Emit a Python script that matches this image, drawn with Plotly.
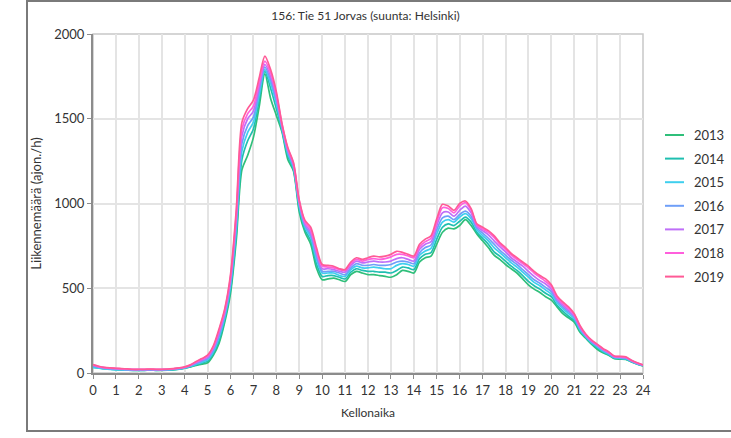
import plotly.graph_objects as go

# Hourly traffic profile, 15-minute resolution (0:00 ... 24:00)
hours = [i / 4 for i in range(97)]
years = ["2013", "2014", "2015", "2016", "2017", "2018", "2019"]

y2013 = [35, 30, 25, 22,  20, 18, 17, 16,  16, 16, 17, 16,  16, 17, 19, 22,
         28, 36, 45, 52,  60, 105, 175, 300,  470, 780, 1200, 1285,
         1390, 1570, 1765, 1620,  1520, 1420, 1260, 1190,  950, 830, 760, 620,
         550, 555, 560, 550,  540, 580, 600, 590,  580, 580, 575, 570,
         565, 580, 605, 600,  590, 655, 680, 690,  760, 830, 855, 850,
         870, 905, 870, 820,  780, 740, 695, 670,  640, 615, 590, 555,
         520, 495, 475, 450,  430, 390, 350, 325,  300, 240, 205, 170,
         140, 120, 105, 85,  82, 80, 65, 52,  42]
y2014 = [36, 31, 26, 23,  21, 19, 18, 17,  17, 17, 18, 17,  17, 18, 20, 23,
         29, 38, 48, 58,  70, 115, 190, 315,  490, 815, 1260, 1370,
         1440, 1610, 1780, 1680,  1560, 1430, 1280, 1200,  970, 845, 780, 645,
         570, 575, 575, 565,  555, 595, 615, 605,  600, 600, 595, 595,
         590, 605, 625, 620,  610, 675, 700, 710,  790, 860, 880, 870,
         895, 920, 890, 830,  795, 760, 715, 690,  660, 630, 605, 575,
         540, 515, 495, 470,  450, 400, 365, 335,  310, 250, 210, 175,
         148, 125, 108, 88,  85, 82, 66, 53,  43]
y2015 = [32, 28, 24, 21,  19, 18, 17, 16,  16, 16, 17, 16,  17, 18, 21, 24,
         30, 40, 52, 64,  78, 125, 210, 330,  515, 850, 1310, 1420,
         1480, 1640, 1790, 1710,  1590, 1440, 1295, 1210,  985, 860, 800, 670,
         590, 590, 590, 575,  570, 610, 630, 620,  620, 625, 620, 615,
         615, 635, 645, 640,  630, 695, 720, 735,  820, 890, 905, 890,
         920, 940, 910, 845,  810, 780, 740, 710,  680, 650, 625, 595,
         565, 535, 515, 490,  465, 415, 380, 350,  320, 255, 214, 180,
         155, 130, 112, 90,  87, 84, 68, 54,  44]
y2016 = [42, 34, 28, 25,  23, 21, 20, 19,  18, 18, 19, 18,  19, 20, 22, 26,
         32, 42, 56, 70,  85, 135, 222, 345,  530, 880, 1355, 1460,
         1510, 1665, 1805, 1730,  1610, 1450, 1305, 1220,  995, 870, 815, 690,
         600, 600, 600, 590,  580, 620, 645, 635,  635, 640, 635, 635,
         640, 655, 660, 655,  645, 710, 740, 755,  845, 915, 925, 905,
         935, 955, 925, 855,  825, 795, 760, 725,  695, 665, 640, 610,
         580, 550, 530, 505,  480, 425, 390, 360,  330, 262, 218, 184,
         160, 135, 116, 93,  90, 87, 70, 56,  45]
y2017 = [45, 36, 30, 27,  25, 23, 21, 20,  20, 20, 21, 20,  20, 21, 24, 28,
         34, 45, 62, 76,  92, 145, 235, 355,  550, 910, 1400, 1500,
         1545, 1690, 1820, 1750,  1630, 1455, 1315, 1225,  1005, 880, 830, 710,
         615, 615, 610, 600,  595, 635, 660, 650,  655, 660, 655, 655,
         660, 675, 680, 670,  660, 730, 760, 775,  870, 945, 950, 925,
         960, 985, 945, 865,  840, 815, 780, 745,  715, 680, 655, 630,
         600, 570, 545, 525,  495, 435, 400, 370,  335, 268, 222, 188,
         163, 138, 119, 95,  93, 90, 72, 57,  46]
y2018 = [48, 38, 32, 29,  27, 25, 23, 21,  21, 21, 22, 21,  21, 22, 25, 29,
         35, 47, 65, 82,  100, 152, 250, 370,  565, 935, 1440, 1530,
         1575, 1715, 1840, 1770,  1645, 1465, 1325, 1235,  1015, 890, 845, 725,
         630, 625, 620, 610,  605, 645, 670, 660,  670, 675, 670, 675,
         685, 700, 700, 690,  680, 745, 775, 795,  890, 975, 970, 945,
         985, 1005, 960, 875,  850, 830, 800, 760,  730, 695, 670, 645,
         620, 590, 565, 540,  510, 445, 410, 380,  345, 275, 226, 192,
         167, 142, 122, 98,  96, 93, 74, 59,  47]
y2019 = [50, 40, 33, 30,  28, 26, 24, 22,  22, 22, 23, 22,  22, 23, 26, 30,
         36, 48, 68, 85,  105, 160, 260, 380,  580, 960, 1480, 1560,
         1610, 1740, 1870, 1790,  1660, 1470, 1330, 1240,  1020, 900, 860, 740,
         640, 635, 630, 615,  610, 655, 680, 670,  680, 690, 685, 690,
         700, 718, 712, 700,  690, 760, 790, 810,  910, 995, 985, 960,
         1000, 1015, 970, 880,  860, 840, 810, 770,  740, 705, 680, 655,
         630, 600, 575, 555,  520, 455, 420, 390,  350, 280, 230, 195,
         170, 145, 125, 100,  98, 95, 75, 60,  48]

series = [y2013, y2014, y2015, y2016, y2017, y2018, y2019]
colors = ["#2fbf7a", "#1fbfb0", "#3fcfee", "#6f9ff8", "#bf6ff8", "#ff5fdc", "#ff5a96"]

x_ticks = list(range(0, 25))
y_ticks = [0, 500, 1000, 1500, 2000]

FONT = "Lato, 'Open Sans', sans-serif"

fig = go.Figure()
for yr, vals, col in zip(years, series, colors):
    fig.add_trace(go.Scatter(
        x=hours, y=vals, mode="lines", name=yr,
        line=dict(color=col, width=1.7, shape="spline", smoothing=0.8),
        showlegend=False,
    ))

# plot-area geometry (pixels) used to place the frame and legend in paper units
W, H = 731, 438
L, R, T, B = 93, 88, 34, 65
pw, ph = W - L - R, H - T - B

def px_x(p):
    return (p - L) / pw

def px_y(p):
    return (H - B - p) / ph

shapes = [
    # outer frame
    dict(type="rect", xref="paper", yref="paper",
         x0=px_x(27), x1=px_x(740), y0=px_y(431), y1=px_y(1),
         line=dict(color="#7a7a7a", width=2), layer="below"),
    # plot box
    dict(type="rect", xref="paper", yref="paper", x0=0, x1=1, y0=0, y1=1,
         line=dict(color="#c8c8c8", width=1.5), layer="below"),
]
annotations = []

# legend drawn as short line samples with labels
for i, (yr, col) in enumerate(zip(years, colors)):
    yy = px_y(135 + i * 23.6)
    shapes.append(dict(type="line", xref="paper", yref="paper",
                       x0=px_x(665), x1=px_x(684), y0=yy, y1=yy,
                       line=dict(color=col, width=2)))
    annotations.append(dict(xref="paper", yref="paper", x=px_x(692), y=yy,
                            text=yr, showarrow=False, xanchor="left", yanchor="middle",
                            font=dict(family=FONT, size=13, color="#333333")))

fig.update_layout(
    width=W, height=H,
    margin=dict(l=L, r=R, t=T, b=B),
    paper_bgcolor="white", plot_bgcolor="white",
    font=dict(family=FONT, size=13, color="#333333"),
    title=dict(text="156: Tie 51 Jorvas (suunta: Helsinki)", x=px_x(368), xanchor="center",
               y=1 - 16 / H, yanchor="middle",
               font=dict(family=FONT, size=12, color="#333333")),
    shapes=shapes,
    annotations=annotations,
    showlegend=False,
)

fig.update_xaxes(
    range=[0, 24], tickvals=x_ticks, ticktext=[str(t) for t in x_ticks],
    showgrid=True, gridcolor="#e4e4e4", gridwidth=1.5,
    showline=True, linecolor="#8c8c8c", linewidth=2,
    ticks="outside", ticklen=4, tickcolor="#8c8c8c", tickwidth=1,
    tickfont=dict(family=FONT, size=13, color="#333333"),
    title=dict(text="Kellonaika", font=dict(family=FONT, size=12, color="#333333"), standoff=12),
    zeroline=False,
)
fig.update_yaxes(
    range=[0, 2000], tickvals=y_ticks, ticktext=[str(t) for t in y_ticks],
    showgrid=True, gridcolor="#e4e4e4", gridwidth=1.5,
    showline=True, linecolor="#8c8c8c", linewidth=2,
    ticks="outside", ticklen=4, tickcolor="#8c8c8c", tickwidth=1,
    tickfont=dict(family=FONT, size=13, color="#333333"),
    title=dict(text="Liikennemäärä (ajon./h)", font=dict(family=FONT, size=13, color="#333333"), standoff=10),
    zeroline=False,
)

fig.write_html("out.html")
